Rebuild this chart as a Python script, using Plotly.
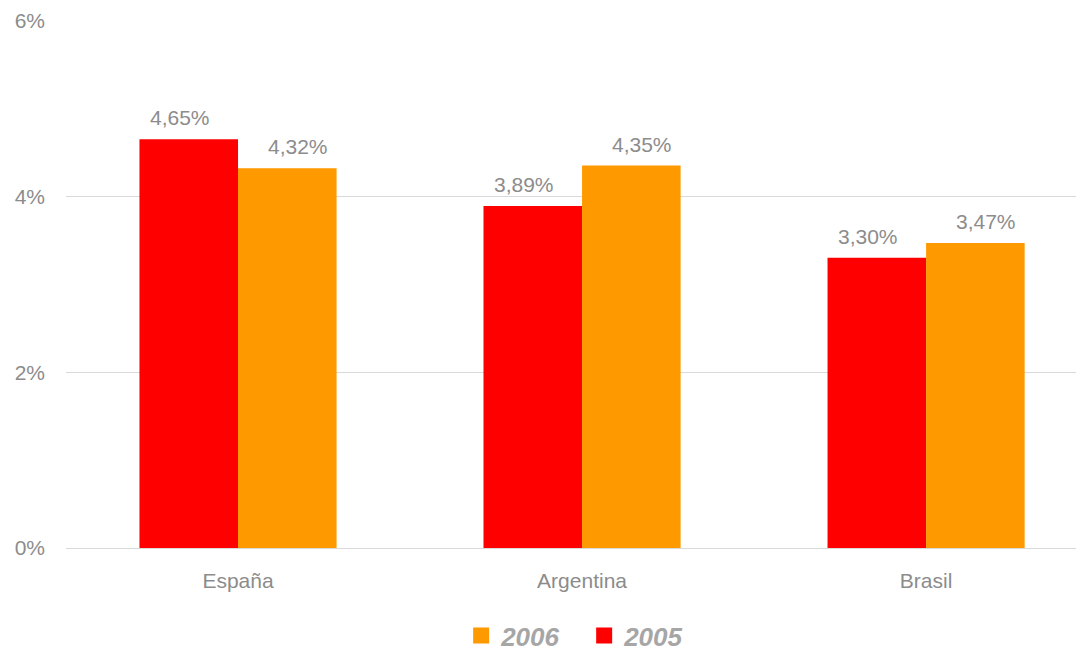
import plotly.graph_objects as go

categories = ["España", "Argentina", "Brasil"]
values_2005 = [4.65, 3.89, 3.30]
values_2006 = [4.32, 4.35, 3.47]
labels_2005 = ["4,65%", "3,89%", "3,30%"]
labels_2006 = ["4,32%", "4,35%", "3,47%"]
tick_vals = [0, 2, 4, 6]
tick_text = ["0%", "2%", "4%", "6%"]

FONT = "Liberation Sans, Arial, sans-serif"
GRAY = "#8c8c8c"
RED = "#ff0000"
ORANGE = "#ff9900"

fig = go.Figure()
fig.add_trace(go.Bar(
    x=categories, y=values_2005, name="2005", showlegend=False,
    marker=dict(color=RED, line=dict(width=0)),
))
fig.add_trace(go.Bar(
    x=categories, y=values_2006, name="2006", showlegend=False,
    marker=dict(color=ORANGE, line=dict(width=0)),
))
# legend entries (bigger square markers)
fig.add_trace(go.Scatter(x=[None], y=[None], mode="markers", name="2005",
                         marker=dict(symbol="square", size=21, color=RED)))
fig.add_trace(go.Scatter(x=[None], y=[None], mode="markers", name="2006",
                         marker=dict(symbol="square", size=21, color=ORANGE)))

# data labels
annotations = []
for cat, v, lab in zip(categories, values_2005, labels_2005):
    annotations.append(dict(x=cat, y=v, text=lab, showarrow=False, xref="x", yref="y",
                            xshift=-58, yshift=8, yanchor="bottom",
                            font=dict(family=FONT, size=21, color=GRAY)))
for cat, v, lab in zip(categories, values_2006, labels_2006):
    annotations.append(dict(x=cat, y=v, text=lab, showarrow=False, xref="x", yref="y",
                            xshift=60, yshift=8, yanchor="bottom",
                            font=dict(family=FONT, size=21, color=GRAY)))

fig.update_layout(
    width=1084, height=651,
    margin=dict(l=58, r=8, t=12, b=111, autoexpand=False),
    paper_bgcolor="white", plot_bgcolor="white",
    barmode="group", bargap=0.427, bargroupgap=0,
    font=dict(family=FONT, color=GRAY),
    showlegend=True,
    annotations=annotations,
    legend=dict(
        orientation="h", x=0.509, xanchor="center", y=-0.166, yanchor="middle",
        traceorder="reversed", itemsizing="trace",
        font=dict(family=FONT, size=26, color="#a6a6a6", weight="bold", style="italic"),
        itemwidth=30, entrywidth=78, entrywidthmode="pixels",
    ),
    xaxis=dict(
        range=[-0.5, 2.459], showgrid=False, showline=False, zeroline=False,
        tickfont=dict(family=FONT, size=21, color=GRAY), ticks="",
        ticklabelstandoff=18,
    ),
    yaxis=dict(
        range=[0, 6.005], tickvals=tick_vals, ticktext=tick_text,
        showgrid=True, gridcolor="#d9d9d9", gridwidth=1,
        zeroline=True, zerolinecolor="#d9d9d9", zerolinewidth=1,
        tickfont=dict(family=FONT, size=21, color=GRAY), ticks="",
        ticklabelstandoff=20,
    ),
)

fig.write_html("out.html")
